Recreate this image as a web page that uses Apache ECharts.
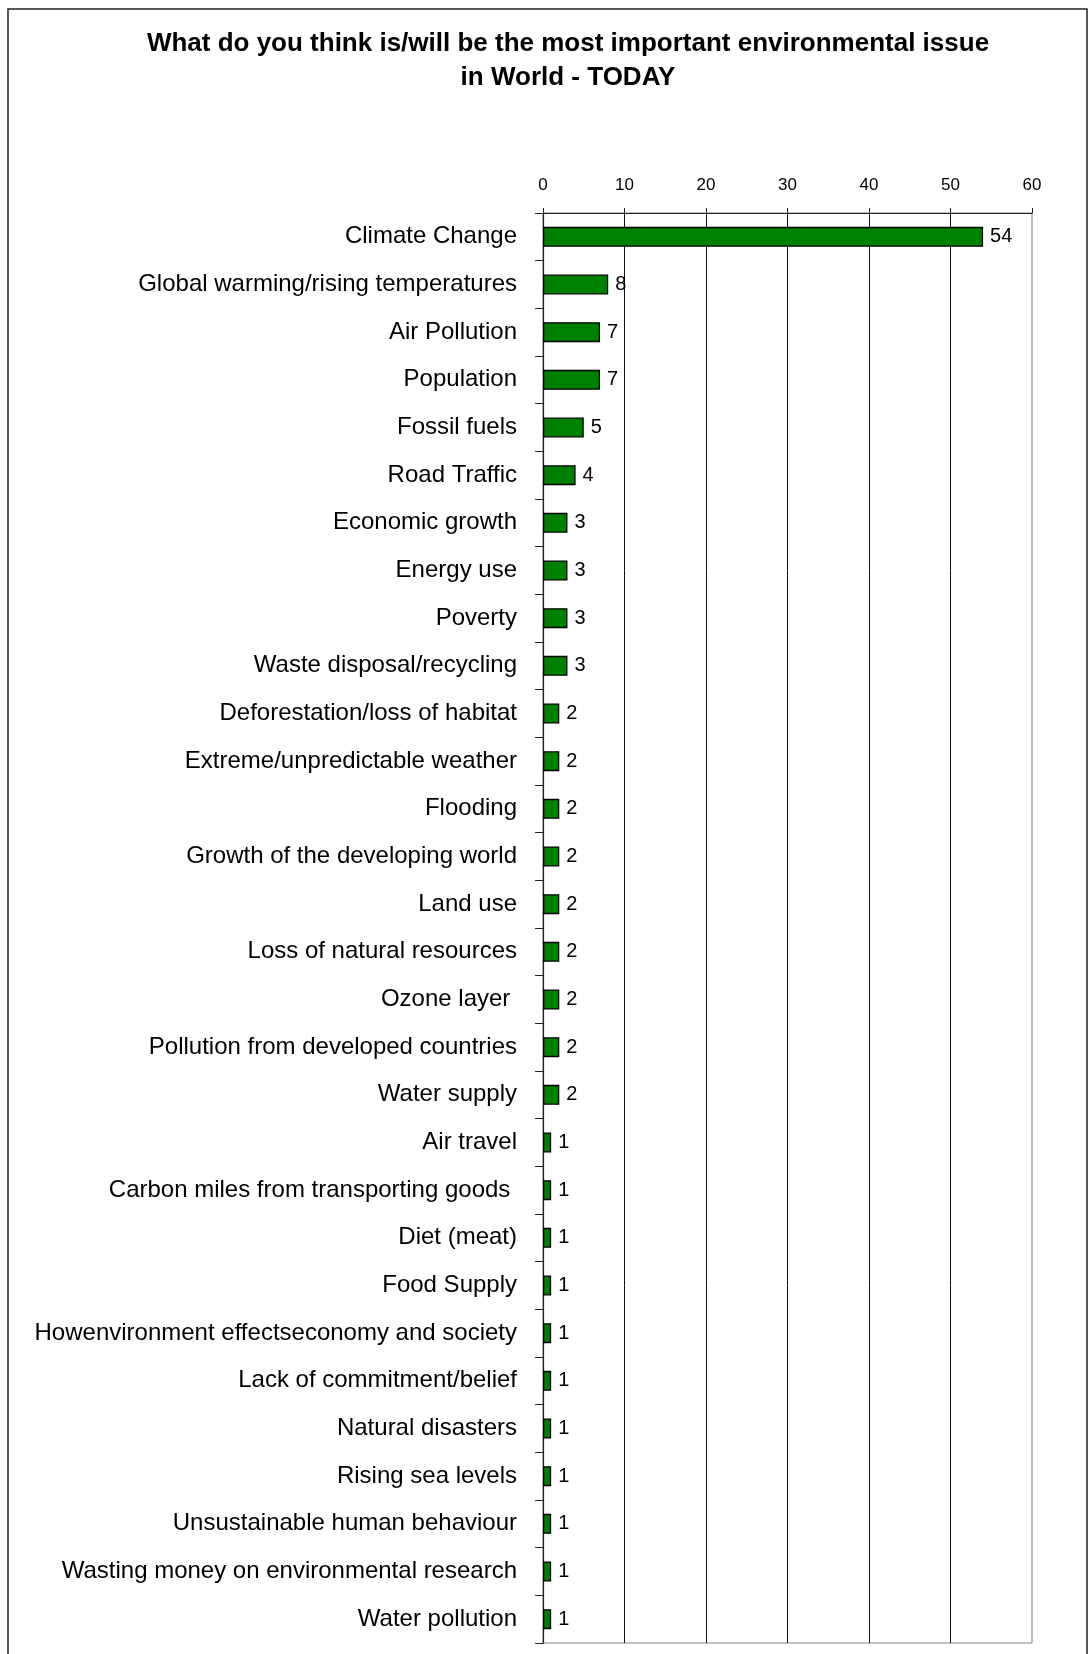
<!DOCTYPE html>
<html>
<head>
<meta charset="utf-8">
<style>
  html, body { margin: 0; padding: 0; background: #fff; }
  #chart { width: 1091px; height: 1654px; }
</style>
<script src="https://cdn.jsdelivr.net/npm/echarts@6/dist/echarts.min.js"></script>
</head>
<body>
<div id="chart"></div>
<script>
// Survey responses: most important environmental issue in the world today (%)
const categories = [
  'Climate Change',
  'Global warming/rising temperatures',
  'Air Pollution',
  'Population',
  'Fossil fuels',
  'Road Traffic',
  'Economic growth',
  'Energy use',
  'Poverty',
  'Waste disposal/recycling',
  'Deforestation/loss of habitat',
  'Extreme/unpredictable weather',
  'Flooding',
  'Growth of the developing world',
  'Land use',
  'Loss of natural resources',
  'Ozone layer ',
  'Pollution from developed countries',
  'Water supply',
  'Air travel',
  'Carbon miles from transporting goods ',
  'Diet (meat)',
  'Food Supply',
  'Howenvironment effectseconomy and society',
  'Lack of commitment/belief',
  'Natural disasters',
  'Rising sea levels',
  'Unsustainable human behaviour',
  'Wasting money on environmental research',
  'Water pollution'
];
const values = [54, 8, 7, 7, 5, 4, 3, 3, 3, 3, 2, 2, 2, 2, 2, 2, 2, 2, 2, 1, 1, 1, 1, 1, 1, 1, 1, 1, 1, 1];
const titleLines = [
  'What do you think is/will be the most important environmental issue',
  'in World - TODAY'
];
const axisMin = 0, axisMax = 60, axisStep = 10;

const FONT = '"Liberation Sans", Arial, Helvetica, sans-serif';
const chart = echarts.init(document.getElementById('chart'), null, { renderer: 'canvas' });

chart.setOption({
  animation: false,
  backgroundColor: '#ffffff',
  textStyle: { fontFamily: FONT },
  graphic: [
    {
      type: 'rect',
      shape: { x: 8, y: 9, width: 1079, height: 1670 },
      style: { fill: 'none', stroke: '#222', lineWidth: 1.5 },
      silent: true
    },
    {
      type: 'text', x: 568, y: 44,
      style: { text: titleLines[0], align: 'center', verticalAlign: 'middle',
               font: 'bold 26px ' + FONT, fill: '#000' }
    },
    {
      type: 'text', x: 568, y: 78,
      style: { text: titleLines[1], align: 'center', verticalAlign: 'middle',
               font: 'bold 26px ' + FONT, fill: '#000' }
    }
  ],
  grid: {
    left: 543, right: 59, top: 213, bottom: 11,
    show: true, borderColor: '#808080', borderWidth: 1, backgroundColor: 'transparent'
  },
  xAxis: {
    type: 'value',
    position: 'top',
    min: axisMin, max: axisMax, interval: axisStep,
    axisLine: { show: true, lineStyle: { color: '#222', width: 1.2 } },
    axisTick: { show: true, inside: false, length: 5, lineStyle: { color: '#222', width: 1 } },
    axisLabel: { margin: 19, fontSize: 17, color: '#000', fontFamily: FONT },
    splitLine: { show: true, showMinLine: false, showMaxLine: false,
                 lineStyle: { color: '#111', width: 1 } }
  },
  yAxis: {
    type: 'category',
    data: categories,
    inverse: true,
    axisLine: { show: true, lineStyle: { color: '#222', width: 1.2 } },
    axisTick: { show: true, inside: false, length: 8, lineStyle: { color: '#222', width: 1 } },
    axisLabel: { margin: 26, fontSize: 24, color: '#000', fontFamily: FONT },
    splitLine: { show: false }
  },
  series: [{
    type: 'bar',
    data: values,
    barWidth: 20,
    itemStyle: { color: '#008000', borderColor: '#000', borderWidth: 1.3 },
    label: {
      show: true, position: 'right', distance: 7,
      fontSize: 20, color: '#000', fontFamily: FONT
    }
  }]
});
</script>
</body>
</html>
